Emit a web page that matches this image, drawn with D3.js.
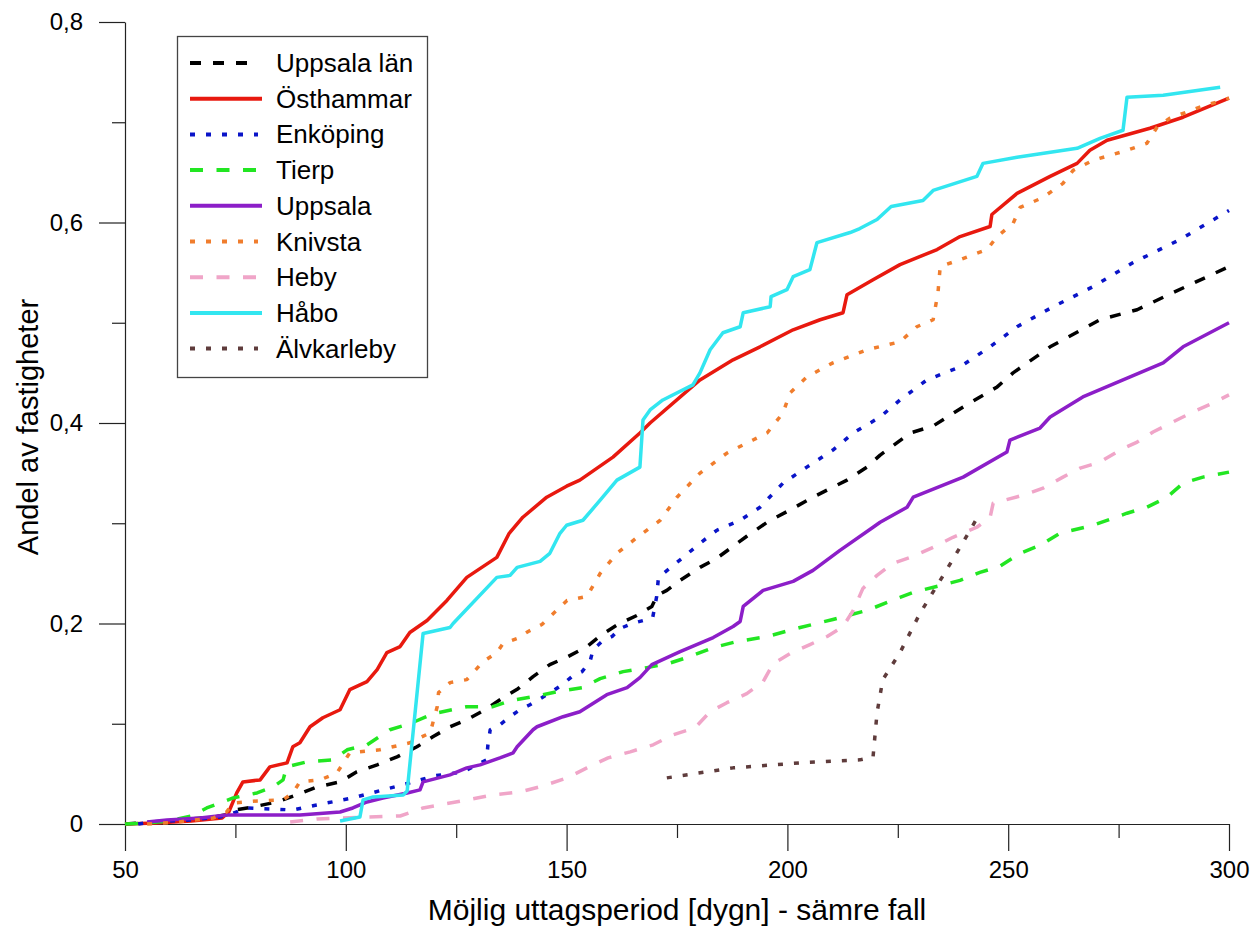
<!DOCTYPE html>
<html>
<head>
<meta charset="utf-8">
<script src="https://cdn.jsdelivr.net/npm/d3@7"></script>
<style>
  body { margin: 0; background: #fff; }
  svg { font-family: "Liberation Sans", Arial, sans-serif; }
</style>
</head>
<body>
<div id="chart"></div>
<script>
// values: [days, share]
const uppsalaLan = [[50,0],[60,0.003],[70,0.007],[74,0.01],[75,0.014],[79,0.017],[84.4,0.022],[88.9,0.029],[93.5,0.037],[98.7,0.042],[102.5,0.052],[107.1,0.059],[111.6,0.067],[116.1,0.077],[119.7,0.087],[123.6,0.097],[127.4,0.104],[131.5,0.114],[135.3,0.125],[139,0.135],[142.4,0.147],[146.2,0.159],[150.3,0.167],[154.6,0.177],[158,0.189],[161.6,0.199],[165.9,0.208],[169.3,0.217],[170.5,0.228],[172.7,0.233],[175.7,0.243],[180.2,0.256],[184,0.265],[187.7,0.277],[190.8,0.287],[195.4,0.301],[201.3,0.315],[205.8,0.326],[213.5,0.343],[218,0.356],[221,0.368],[227.8,0.39],[233,0.397],[239.8,0.416],[247.5,0.436],[251.1,0.45],[259.5,0.476],[270.8,0.503],[279.2,0.513],[287.3,0.53],[300,0.556]];
const osthammar = [[50,0],[57,0.001],[65,0.003],[72,0.006],[73.5,0.012],[75.3,0.031],[76.7,0.042],[80.6,0.044],[82.8,0.057],[86.7,0.061],[88,0.077],[89.6,0.081],[91.9,0.097],[94.8,0.106],[98.7,0.114],[100.9,0.134],[104.8,0.142],[107.1,0.154],[109.3,0.171],[112.3,0.177],[114.5,0.191],[118.4,0.203],[122.9,0.223],[127.4,0.246],[134.2,0.266],[137,0.29],[140.1,0.306],[145.5,0.326],[150,0.337],[153,0.343],[160.5,0.366],[166.6,0.39],[168.9,0.4],[180.2,0.443],[187.7,0.463],[193.8,0.476],[201.3,0.493],[207.4,0.503],[212.6,0.51],[213.5,0.528],[219.4,0.543],[225.5,0.558],[233.9,0.573],[239.1,0.586],[245.9,0.596],[246.3,0.608],[252,0.629],[259.5,0.646],[265.6,0.659],[268.5,0.672],[272.4,0.682],[282.1,0.694],[289.6,0.705],[300,0.724]];
const enkoping = [[53,0],[56,0.002],[65,0.004],[71.5,0.007],[74,0.01],[77.6,0.016],[83,0.015],[88,0.014],[93.4,0.019],[101.6,0.026],[108.4,0.034],[114.5,0.041],[120,0.048],[126.5,0.052],[131.9,0.064],[132.2,0.08],[132.7,0.094],[134.9,0.099],[137.2,0.107],[139.4,0.114],[141.7,0.119],[144.4,0.126],[146.7,0.132],[149,0.139],[151.2,0.147],[153.5,0.152],[155.3,0.162],[156,0.174],[158,0.182],[160.3,0.187],[162.1,0.195],[164.8,0.2],[168.2,0.204],[169.5,0.206],[170.4,0.227],[170.8,0.246],[176.4,0.266],[180.2,0.28],[184,0.293],[189.3,0.303],[193.8,0.316],[199,0.34],[204.4,0.356],[210.3,0.373],[214.9,0.39],[221,0.406],[225.5,0.423],[231.6,0.443],[239.1,0.456],[245.9,0.476],[252,0.496],[260.2,0.516],[269.2,0.536],[278.3,0.56],[288.9,0.583],[300,0.612]];
const tierp = [[50,0],[55,0.001],[60,0.003],[65,0.008],[68.5,0.016],[74.5,0.026],[79.9,0.031],[83.5,0.037],[85.8,0.044],[86.6,0.057],[91.2,0.062],[97.1,0.064],[100.3,0.074],[104.8,0.079],[110,0.094],[114.5,0.1],[119.7,0.11],[127.4,0.117],[133.3,0.117],[137.2,0.123],[142.4,0.127],[148,0.132],[153.5,0.136],[157.6,0.145],[162.8,0.152],[168.2,0.156],[173,0.16],[177.9,0.167],[183.2,0.176],[188.6,0.182],[195.4,0.187],[202.9,0.196],[210.3,0.204],[218,0.213],[225.5,0.226],[228.5,0.231],[239.1,0.243],[243.6,0.251],[248.1,0.257],[252.7,0.27],[257.2,0.278],[261.7,0.29],[269.2,0.298],[276.9,0.31],[281.4,0.316],[286,0.326],[289.6,0.34],[294.1,0.346],[300,0.351]];
const uppsala = [[55,0.002],[59.5,0.004],[67,0.006],[73,0.009],[89.6,0.009],[98.7,0.012],[101.6,0.016],[104.8,0.022],[108.4,0.026],[113.9,0.031],[116.8,0.034],[117.5,0.042],[123.6,0.049],[127.4,0.056],[130.4,0.059],[134.9,0.066],[137.9,0.071],[138.8,0.077],[142.4,0.094],[143.3,0.097],[149.2,0.107],[153,0.112],[159.1,0.129],[163.7,0.136],[166.6,0.146],[169.3,0.159],[175.7,0.172],[183.2,0.186],[187.7,0.197],[189.3,0.202],[190,0.217],[194.5,0.233],[201.3,0.242],[205.8,0.253],[211.9,0.273],[219.4,0.296],[221,0.301],[227.1,0.316],[228.5,0.326],[239.8,0.346],[249.7,0.371],[250.4,0.383],[257.2,0.395],[259.5,0.406],[266.9,0.426],[276,0.443],[285.1,0.46],[289.6,0.476],[300,0.5]];
const knivsta = [[55,0],[62,0.002],[70,0.006],[73,0.012],[74.5,0.021],[80,0.023],[85.8,0.024],[88,0.031],[89.6,0.042],[94.2,0.044],[98,0.051],[100.9,0.071],[107.7,0.074],[114.5,0.081],[119.1,0.091],[120.7,0.117],[121,0.131],[123.6,0.141],[127.4,0.144],[131.1,0.162],[134.2,0.171],[135.6,0.18],[138.8,0.185],[141.3,0.192],[144.4,0.199],[150.1,0.223],[154.6,0.227],[157.6,0.25],[161.4,0.27],[166,0.286],[171.2,0.303],[175,0.326],[180.2,0.35],[186.3,0.37],[192.2,0.383],[195.4,0.39],[199,0.41],[200.6,0.43],[204.4,0.446],[210.3,0.46],[218,0.473],[225.5,0.481],[229.3,0.496],[233,0.503],[234.1,0.53],[234.6,0.556],[239.1,0.563],[245.2,0.573],[247.5,0.586],[251.1,0.599],[252.7,0.615],[257.9,0.625],[262.4,0.639],[264.7,0.652],[269.2,0.662],[276.9,0.672],[281.4,0.679],[283.7,0.695],[286.6,0.704],[293.4,0.715],[300,0.724]];
const heby = [[87.4,0.002],[93.5,0.005],[104.8,0.007],[112.3,0.008],[117.5,0.016],[127.4,0.024],[133.3,0.029],[139.4,0.032],[144.7,0.038],[150.1,0.046],[154.6,0.056],[159.4,0.066],[164.4,0.072],[169.6,0.079],[174.1,0.089],[179.1,0.096],[182.5,0.112],[186.3,0.121],[190.8,0.13],[194.5,0.142],[196.8,0.16],[200.6,0.17],[205.1,0.179],[209,0.187],[212.6,0.197],[214.9,0.213],[217.1,0.235],[220.3,0.248],[223.9,0.26],[228.5,0.267],[233,0.276],[237.5,0.286],[242.9,0.296],[245.9,0.306],[246.6,0.32],[253.4,0.328],[257.9,0.335],[262.4,0.346],[266.3,0.355],[270.8,0.361],[275.3,0.373],[279.2,0.381],[282.8,0.391],[287.3,0.401],[291.8,0.411],[296.4,0.42],[300,0.428]];
const habo = [[98.7,0.003],[103.2,0.007],[103.9,0.024],[106.2,0.027],[113,0.029],[113.9,0.033],[117.5,0.19],[123.6,0.196],[124.3,0.2],[134.2,0.246],[137.2,0.248],[138.8,0.256],[144,0.262],[146.2,0.27],[148.5,0.29],[150,0.298],[153.7,0.303],[157.6,0.323],[161.4,0.343],[166.6,0.356],[167.3,0.403],[168.9,0.413],[171.8,0.423],[178.6,0.438],[180.2,0.45],[182.5,0.473],[185.4,0.49],[189.3,0.496],[190,0.51],[196.1,0.516],[196.3,0.526],[199.9,0.533],[201.3,0.546],[205.1,0.553],[206.7,0.58],[214.2,0.59],[216.4,0.594],[220.3,0.603],[223.5,0.616],[230.7,0.622],[233,0.632],[242.9,0.646],[244.3,0.659],[252,0.665],[265.6,0.674],[270.8,0.684],[276,0.692],[276.9,0.725],[285.1,0.727],[298,0.735]];
const alvkarleby = [[172.7,0.046],[187.7,0.056],[202.9,0.061],[216.4,0.064],[219.4,0.067],[220.3,0.111],[221.6,0.144],[225.5,0.171],[230,0.21],[234.6,0.243],[239.1,0.276],[243.6,0.31]];

const seriesNames = ["Uppsala län", "Östhammar", "Enköping", "Tierp", "Uppsala", "Knivsta", "Heby", "Håbo", "Älvkarleby"];
const seriesValues = [uppsalaLan, osthammar, enkoping, tierp, uppsala, knivsta, heby, habo, alvkarleby];
const seriesColors = ["#000000", "#e8190f", "#0a14c8", "#22e622", "#8c1ec8", "#f07d2d", "#f0a5c8", "#32e6f0", "#5f3c3c"];
const seriesDash = ["11,12", null, "5,11", "13,13.5", null, "5,11", "13,13.5", null, "5,11"];

const xTicks = [50, 100, 150, 200, 250, 300];
const xMinorTicks = [75, 125, 175, 225, 275];
const yTicks = [0, 0.2, 0.4, 0.6, 0.8];
const yMinorTicks = [0.1, 0.3, 0.5, 0.7];

const width = 1254, height = 927;
const svg = d3.select("#chart").append("svg")
  .attr("width", width)
  .attr("height", height);

const x = d3.scaleLinear().domain([50, 300]).range([125, 1229]);
const y = d3.scaleLinear().domain([0, 0.8]).range([824, 22]);

const fmt = d => String(d).replace(".", ",");

// minor ticks first, then major axes on top
svg.append("g")
  .attr("transform", `translate(0,${y(0)})`)
  .call(d3.axisBottom(x).tickValues(xMinorTicks).tickSize(14).tickFormat(""))
  .call(g => g.select(".domain").remove());
svg.append("g")
  .attr("transform", `translate(${x(50)},0)`)
  .call(d3.axisLeft(y).tickValues(yMinorTicks).tickSize(13).tickFormat(""))
  .call(g => g.select(".domain").remove());

const xAxis = svg.append("g")
  .attr("transform", `translate(0,${y(0)})`)
  .call(d3.axisBottom(x).tickValues(xTicks).tickSize(27).tickSizeOuter(0).tickPadding(10).tickFormat(d => d));
const yAxis = svg.append("g")
  .attr("transform", `translate(${x(50)},0)`)
  .call(d3.axisLeft(y).tickValues(yTicks).tickSize(26).tickSizeOuter(0).tickPadding(16).tickFormat(fmt));

svg.selectAll(".tick line, .domain").attr("stroke", "#222").attr("stroke-width", 1.2);
svg.selectAll(".tick text").attr("fill", "#000").style("font-size", "24px").style("font-family", "'Liberation Sans', Arial, sans-serif");

// axis titles
svg.append("text")
  .attr("x", 677)
  .attr("y", 920)
  .attr("text-anchor", "middle")
  .style("font-size", "30px")
  .text("Möjlig uttagsperiod [dygn] - sämre fall");

svg.append("text")
  .attr("transform", "translate(38,427) rotate(-90)")
  .attr("text-anchor", "middle")
  .style("font-size", "29px")
  .text("Andel av fastigheter");

// lines
const line = d3.line().x(d => x(d[0])).y(d => y(d[1]));

svg.append("g").selectAll("path")
  .data(seriesValues)
  .join("path")
  .attr("d", line)
  .attr("fill", "none")
  .attr("stroke", (d, i) => seriesColors[i])
  .attr("stroke-width", 3.5)
  .attr("stroke-linejoin", "round")
  .attr("stroke-dasharray", (d, i) => seriesDash[i]);

// legend
const legend = svg.append("g");
legend.append("rect")
  .attr("x", 177.5).attr("y", 36.5)
  .attr("width", 250).attr("height", 341)
  .attr("fill", "#fff")
  .attr("stroke", "#444")
  .attr("stroke-width", 1.3);

const rows = legend.selectAll("g.row")
  .data(seriesNames)
  .join("g")
  .attr("class", "row")
  .attr("transform", (d, i) => `translate(0,${63 + i * 35.7})`);

rows.append("line")
  .attr("x1", 190).attr("x2", (d, i) => seriesDash[i] ? 258 : 262)
  .attr("y1", 0).attr("y2", 0)
  .attr("stroke", (d, i) => seriesColors[i])
  .attr("stroke-width", 4)
  .attr("stroke-dasharray", (d, i) => seriesDash[i]);

rows.append("text")
  .attr("x", 276)
  .attr("y", 9)
  .style("font-size", "26px")
  .text(d => d);
</script>
</body>
</html>
